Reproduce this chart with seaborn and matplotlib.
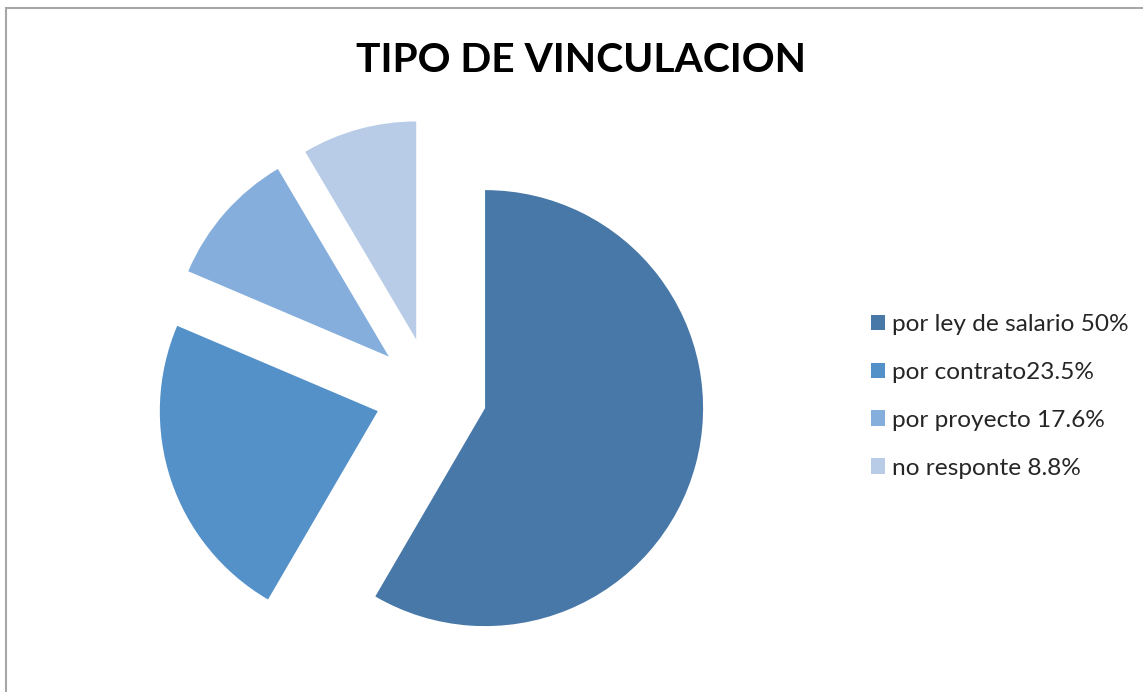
import numpy as np
import matplotlib
matplotlib.use("Agg")
import matplotlib.pyplot as plt
import seaborn as sns
from matplotlib.patches import Rectangle

sns.set_style("white")
plt.rcParams['font.family'] = ['Lato', 'DejaVu Sans']

# data (slice sizes) + legend texts as printed
labels = ["por ley de salario 50%", "por contrato23.5%", "por proyecto 17.6%", "no responte 8.8%"]
sizes = [58.4, 23.0, 10.1, 8.5]
colors = ["#4878A8", "#5591C9", "#86AEDC", "#B8CCE8"]

W, H = 1143, 692
fig = plt.figure(figsize=(W / 100, H / 100), dpi=100)

# pie centre ~ (431, 393.5) px, radius ~218 px
cx, cy, r = 431, 393.5, 218
half = 290
ax = fig.add_axes([(cx - half) / W, (H - cy - half) / H, 2 * half / W, 2 * half / H])
wedges, _ = ax.pie(sizes, colors=colors, startangle=90, counterclock=False,
                   explode=[0.257] * 4, radius=1,
                   wedgeprops=dict(linewidth=0))
lim = half / r
ax.set_xlim(-lim, lim)
ax.set_ylim(-lim, lim)
ax.set_aspect("equal")
ax.axis("off")

fig.text(581 / W, 1 - 60 / H, "TIPO DE VINCULACION", ha="center", va="center",
         fontsize=29.3, fontweight="bold", color="black")

leg = fig.legend(wedges, labels, loc="upper left",
                 bbox_to_anchor=(870.5 / W, 1 - 314 / H), frameon=False,
                 fontsize=17.6, handlelength=0.6, handleheight=0.6,
                 handletextpad=0.3, labelspacing=1.1, borderpad=0,
                 borderaxespad=0)

# outer chart border (top & left visible)
fig.add_artist(Rectangle((5.5 / W, -0.1), 2, 0.1 + (H - 8) / H, transform=fig.transFigure,
                         fill=False, edgecolor="#a6a6a6", linewidth=1.5))

fig.savefig("out.png", dpi=100)
